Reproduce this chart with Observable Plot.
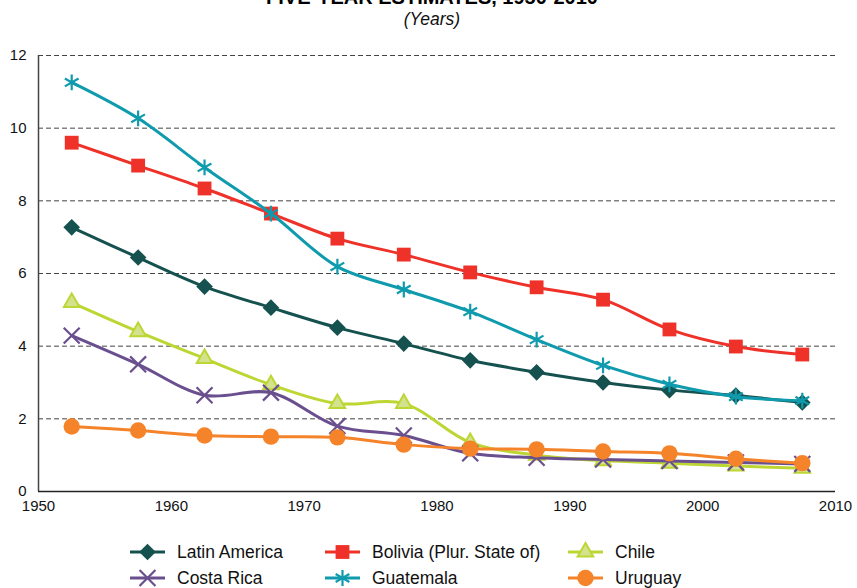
<!DOCTYPE html>
<html>
<head>
<meta charset="utf-8">
<script src="https://cdn.jsdelivr.net/npm/d3@7"></script>
<script src="https://cdn.jsdelivr.net/npm/@observablehq/plot@0.6"></script>
<style>
  html, body { margin: 0; padding: 0; background: #fff; }
  body { width: 857px; height: 588px; position: relative; overflow: hidden; font-family: "Liberation Sans", Arial, sans-serif; }
  #header { position: absolute; left: 0; top: 0; }
  #chart { position: absolute; left: 0; top: 36px; }
  .leg { position: absolute; display: flex; align-items: center; font-size: 17.5px; color: #111; white-space: nowrap; }
  .leg svg { margin-right: 12px; }
</style>
</head>
<body>
<svg id="header" width="857" height="36">
  <text x="432" y="4" text-anchor="middle" font-family="Liberation Sans, Arial" font-weight="bold" font-size="20" fill="#000">FIVE-YEAR ESTIMATES, 1950-2010</text>
  <text x="432" y="25" text-anchor="middle" font-family="Liberation Sans, Arial" font-style="italic" font-size="17.5" fill="#111">(Years)</text>
</svg>
<div id="chart"></div>
<div id="legend"></div>
<script>
const periods = [1952.5, 1957.5, 1962.5, 1967.5, 1972.5, 1977.5, 1982.5, 1987.5, 1992.5, 1997.5, 2002.5, 2007.5];
const latinAmerica = [7.27, 6.44, 5.64, 5.06, 4.51, 4.07, 3.61, 3.28, 3.0, 2.79, 2.64, 2.45];
const bolivia = [9.6, 8.97, 8.34, 7.65, 6.96, 6.52, 6.03, 5.62, 5.28, 4.46, 3.99, 3.77];
const chile = [5.2, 4.4, 3.66, 2.94, 2.42, 2.42, 1.35, 1.0, 0.85, 0.78, 0.7, 0.64];
const costaRica = [4.29, 3.5, 2.65, 2.72, 1.8, 1.54, 1.05, 0.93, 0.88, 0.84, 0.8, 0.76];
const guatemala = [11.26, 10.27, 8.92, 7.65, 6.19, 5.56, 4.95, 4.18, 3.47, 2.95, 2.61, 2.5];
const uruguay = [1.79, 1.68, 1.54, 1.51, 1.49, 1.29, 1.18, 1.16, 1.1, 1.05, 0.9, 0.78];
const xTicks = [1950, 1960, 1970, 1980, 1990, 2000, 2010];
const yTicks = [0, 2, 4, 6, 8, 10, 12];
const gridTicks = [2, 4, 6, 8, 10, 12];

const series = [
  {name: "Latin America", values: latinAmerica, color: "#15524f", symbol: "diamond2", r: 7.5, fill: "#15524f", stroke: "none", sw: 0},
  {name: "Bolivia (Plur. State of)", values: bolivia, color: "#ee3229", symbol: "square", r: 7.8, fill: "#ee3229", stroke: "none", sw: 0},
  {name: "Chile", values: chile, color: "#bed633", symbol: "triangle", r: 5.8, fill: "#d3e28c", stroke: "#bed633", sw: 2},
  {name: "Costa Rica", values: costaRica, color: "#6a4f8e", symbol: "times", r: 7.3, fill: "none", stroke: "#6a4f8e", sw: 2.2},
  {name: "Guatemala", values: guatemala, color: "#0f9bad", symbol: "asterisk", r: 7.5, fill: "none", stroke: "#0f9bad", sw: 2.2},
  {name: "Uruguay", values: uruguay, color: "#f5832a", symbol: "circle", r: 8.2, fill: "#f5832a", stroke: "none", sw: 0}
];

const marks = [
  Plot.ruleY(gridTicks, {stroke: "#444", strokeWidth: 1, strokeDasharray: "5,3"}),
  Plot.ruleX([1950], {y1: 0, y2: 12, stroke: "#444", strokeWidth: 1.5}),
  Plot.ruleY([0], {stroke: "#222", strokeWidth: 1.3}),
  Plot.axisY({ticks: yTicks, tickSize: 0, tickPadding: 12, label: null}),
  Plot.axisX({ticks: xTicks, tickSize: 0, tickPadding: 9, tickFormat: d => String(d), label: null})
];
for (const s of series) {
  const data = periods.map((p, i) => ({x: p, y: s.values[i]}));
  marks.push(Plot.line(data, {x: "x", y: "y", curve: "catmull-rom", stroke: s.color, strokeWidth: 3}));
  marks.push(Plot.dot(data, {x: "x", y: "y", symbol: () => s.symbol, r: s.r, fill: s.fill, stroke: s.stroke, strokeWidth: s.sw}));
}

const chart = Plot.plot({
  width: 857,
  height: 484,
  marginTop: 19,
  marginBottom: 29,
  marginLeft: 38,
  marginRight: 22,
  x: {domain: [1950, 2010]},
  y: {domain: [0, 12]},
  style: {fontFamily: "Liberation Sans, Arial, sans-serif", fontSize: "15px", color: "#111", background: "white"},
  marks
});
document.getElementById("chart").appendChild(chart);

// Legend
const symMap = {diamond2: d3.symbolDiamond2, square: d3.symbolSquare, triangle: d3.symbolTriangle, times: d3.symbolTimes, asterisk: d3.symbolAsterisk, circle: d3.symbolCircle};
const legendPos = [
  {left: 130, top: 552}, {left: 325, top: 552}, {left: 568, top: 552},
  {left: 130, top: 578}, {left: 325, top: 578}, {left: 568, top: 578}
];
const legend = document.getElementById("legend");
series.forEach((s, i) => {
  const pos = legendPos[i];
  const div = document.createElement("div");
  div.className = "leg";
  div.style.left = pos.left + "px";
  div.style.top = (pos.top - 11) + "px";
  div.style.height = "22px";
  const path = d3.symbol(symMap[s.symbol], Math.PI * s.r * s.r)();
  div.innerHTML = `<svg width="35" height="22" viewBox="0 0 35 22">
      <line x1="0" x2="35" y1="11" y2="11" stroke="${s.color}" stroke-width="3"/>
      <path d="${path}" transform="translate(17.5,11)" fill="${s.fill}" stroke="${s.stroke}" stroke-width="${s.sw}"/>
    </svg><span>${s.name}</span>`;
  legend.appendChild(div);
});
</script>
</body>
</html>
